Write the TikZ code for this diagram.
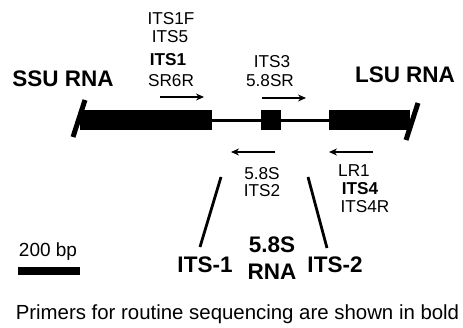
\documentclass[tikz,border=0pt]{standalone}
\usepackage{fontspec}
\setmainfont{Liberation Sans}
\usetikzlibrary{arrows.meta}
\begin{document}
\begin{tikzpicture}[x=1pt,y=-1pt,
  primerlbl/.style={inner sep=0pt, anchor=base, font=\fontsize{17.2}{17.2}\selectfont},
  boldprimer/.style={primerlbl, font=\fontsize{17.2}{17.2}\selectfont\bfseries},
  regionlbl/.style={inner sep=0pt, anchor=base, font=\fontsize{22.5}{22.5}\selectfont\bfseries},
  noteslbl/.style={inner sep=0pt, anchor=base, font=\fontsize{19}{19}\selectfont},
  primer/.style={line width=1.3pt, -{Stealth[length=8pt,width=7pt]}},
  spacer/.style={line width=3pt},
  endcap/.style={line width=5pt},
  itsline/.style={line width=2.8pt},
]
\useasboundingbox (0,0) rectangle (463,328);

% gene blocks: SSU, 5.8S, LSU
\fill (80,110) rectangle (212,130);
\draw[endcap] (85,100) -- (73,137);
\fill (261,110) rectangle (281,130);
\fill (329,110) rectangle (410,130);
\draw[endcap] (418,103) -- (406,140);
\coordinate (ssuR) at (212,121);
\coordinate (lsuL) at (329,121);
\draw[spacer] (ssuR) -- (lsuL);

% gene labels
\node[regionlbl] (ssu) at (63,87) {SSU RNA};
\node[regionlbl] (lsu) at (405,83) {LSU RNA};

% forward primers
\node[primerlbl] (its1f) at (171,25) {ITS1F};
\node[primerlbl] (its5) at (170,43) {ITS5};
\node[boldprimer] (its1) at (168,66) {ITS1};
\node[primerlbl] (sr6r) at (171,87) {SR6R};
\coordinate (f1s) at (160,97);
\coordinate (f1e) at (204,97);
\draw[primer] (f1s) -- (f1e);

\node[primerlbl] (its3) at (272,68) {ITS3};
\node[primerlbl] (sr58) at (270,87) {5.8SR};
\coordinate (f2s) at (262,98);
\coordinate (f2e) at (306,98);
\draw[primer] (f2s) -- (f2e);

% reverse primers
\coordinate (r1s) at (275,152);
\coordinate (r1e) at (231,152);
\draw[primer] (r1s) -- (r1e);
\node[primerlbl] (s58) at (262,180) {5.8S};
\node[primerlbl] (its2) at (262,197) {ITS2};

\coordinate (r2s) at (373,152);
\coordinate (r2e) at (329,152);
\draw[primer] (r2s) -- (r2e);
\node[primerlbl] (lr1) at (354,177) {LR1};
\node[boldprimer] (its4) at (360,195) {ITS4};
\node[primerlbl] (its4r) at (365,213) {ITS4R};

% spacer regions
\coordinate (i1t) at (221,177);
\coordinate (i1b) at (200,247);
\draw[itsline] (i1t) -- (i1b);
\coordinate (i2t) at (308,177);
\coordinate (i2b) at (327,248);
\draw[itsline] (i2t) -- (i2b);
\node[regionlbl] (its1lbl) at (205,273) {ITS-1};
\node[regionlbl] (rna58a) at (272,253) {5.8S};
\node[regionlbl] (rna58b) at (272,280) {RNA};
\node[regionlbl] (its2lbl) at (335,273) {ITS-2};

% scale bar
\node[noteslbl] (scale) at (48,257) {200 bp};
\fill (18,267) rectangle (80,275);

% caption
\node[noteslbl, font=\fontsize{20.4}{20.4}\selectfont] (caption) at (237.5,320) {Primers for routine sequencing are shown in bold};
\end{tikzpicture}
\end{document}
